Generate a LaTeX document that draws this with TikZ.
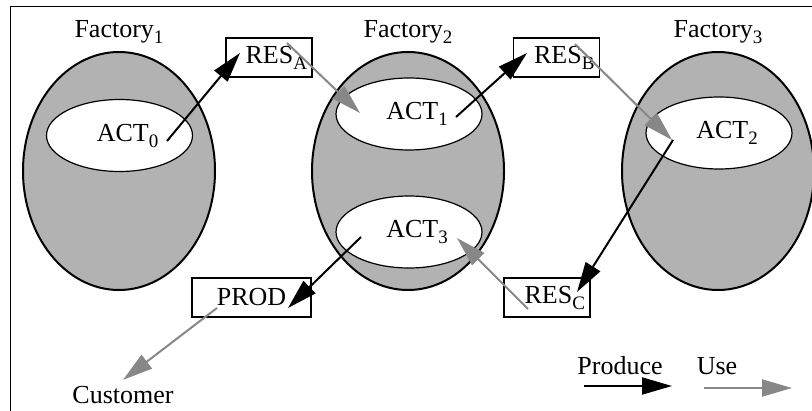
\documentclass[tikz,border=0pt]{standalone}
\usepackage{fontspec}
\setmainfont{Liberation Serif}
\usetikzlibrary{shapes.geometric,arrows.meta}
\newcommand{\sub}[1]{\raisebox{-3pt}{\fontsize{9.5}{10}\selectfont #1}}

\begin{document}
\begin{tikzpicture}[ x=0.5pt, y=-0.5pt, font=\fontsize{13}{15}\selectfont,
    >={Triangle[length=15pt,width=8.5pt]}, factory/.style={ ellipse,
    draw, line width=1pt, fill=black!30, minimum width=96pt,
    minimum height=119pt }, act/.style={ ellipse, draw, line width=0.6pt,
    fill=white, minimum width=73pt, minimum height=36pt },
    res/.style={ draw, line width=0.6pt, minimum height=19.5pt,
    text width=38pt, inner xsep=2.5pt, align=right },
    produce/.style={ ->, line width=1pt }, consume/.style={ ->,
    line width=1pt, color=black!47 } ]
  \useasboundingbox (0,0) rectangle (812,411);
  \draw[line width=0.5pt] (10,7) rectangle (816,415);
  \foreach \i/\x in {1/119,2/408,3/718}
  \node[factory,label={[label distance=0pt]above:Factory\sub{\i}}] (f\i) at (\x,171) {};
  \foreach \i/\x/\y in {0/119.5/135.5,1/409/114,2/719/133,3/409/232}
  \node[act,label={[xshift=4pt]center:ACT\sub{\i}}] (a\i) at (\x,\y) {};
  \node[res] (resA) at (269,57.5) {RES\sub{A}};
  \node[res] (resB) at (556.5,57.5) {RES\sub{B}};
  \node[res] (resC) at (547,297.5) {RES\sub{C}};
  \node[draw, line width=0.6pt, minimum width=59.5pt, minimum height=19.5pt]
  (prod) at (251.5,297.5) {PROD};
  \node[inner sep=3pt] (cust) at (123,395) {Customer};
  \node (lp) at (620,366) {Produce};
  \node (lu) at (717,366) {Use};
  \foreach \n/\x/\y in {s0/167/141,t0/240/53,u1/287/43,v1/360/113,
    s1/456/117,t1/527/53,u2/575/44,v2/672/140,s2/673/140,t2/577/292,
    u3/528/309,v3/457/238,s3/361/237,t3/288/308,u4/217/308,
    p1/584/386,p2/672/386,q1/704/388,q2/792/388}
  \coordinate (\n) at (\x,\y);
  \foreach \a/\b in {s0/t0,s1/t1,s2/t2,s3/t3,p1/p2}
  \draw[produce] (\a) -- (\b);
  \foreach \a/\b in {u1/v1,u2/v2,u3/v3,q1/q2}
  \draw[consume] (\a) -- (\b);
  \draw[consume] (u4) -- (cust.north);
\end{tikzpicture}
\end{document}
